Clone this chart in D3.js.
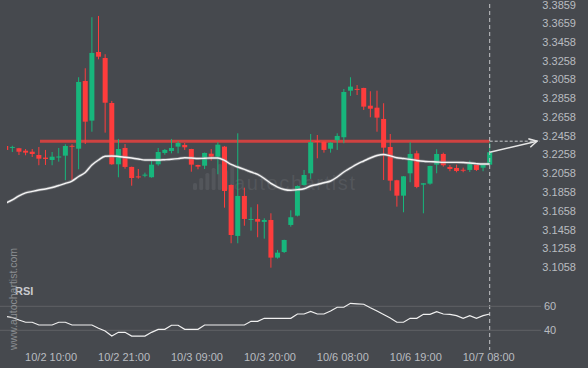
<!DOCTYPE html>
<html>
<head>
<meta charset="UTF-8">
<title>Candles</title>
<script src="https://d3js.org/d3.v7.min.js"></script>
<style>
  body {margin: 0; background: #46494e;}
  text {font-family: "Liberation Sans", Arial, sans-serif;}
  .axis-lbl {fill: #b9bcc0; font-size: 11px;}
  .up {fill: #17b67c; stroke: #17b67c;}
  .down {fill: #fe3c3c; stroke: #fe3c3c;}
</style>
</head>
<body>
<div id="chart"></div>
<script>
// hourly candles, 10/2 03:00 -> 10/7 08:00
var opens = [3.2350,3.2336,3.2326,3.2300,3.2289,3.2254,3.2226,3.2201,3.2234,3.2247,
  3.2352,3.2321,3.3042,3.2620,3.3351,3.3287,3.2808,3.2155,3.2329,3.2127,
  3.2026,3.2034,3.2017,3.2155,3.2276,3.2297,3.2343,3.2361,3.2318,3.2148,
  3.2140,3.2268,3.2236,3.2343,3.1935,3.1392,3.1818,3.1568,3.1573,3.1541,
  3.1562,3.1161,3.1221,3.1509,3.1608,3.1935,3.2059,3.2403,3.2396,3.2321,
  3.2411,3.2443,3.2939,3.2958,3.2968,3.2779,3.2758,3.2638,3.2339,3.1985,
  3.1821,3.2059,3.2272,3.1938,3.1949,3.2151,3.2265,3.2127,3.2116,3.2097,
  3.2095,3.2148,3.2119,3.2151];
var highs = [3.2355,3.2353,3.2330,3.2318,3.2318,3.2339,3.2308,3.2286,3.2329,3.2368,
  3.2368,3.3082,3.3178,3.3721,3.3735,3.3327,3.2830,3.2425,3.2371,3.2130,
  3.2105,3.2066,3.2194,3.2329,3.2318,3.2425,3.2400,3.2382,3.2320,3.2150,
  3.2280,3.2318,3.2390,3.2350,3.1940,3.2485,3.1906,3.1697,3.1729,3.1580,
  3.1633,3.1243,3.1352,3.1665,3.1930,3.2095,3.2478,3.2467,3.2400,3.2390,
  3.2485,3.2957,3.3082,3.2999,3.2970,3.2933,3.2939,3.2805,3.2478,3.1990,
  3.2030,3.2390,3.2300,3.1955,3.2140,3.2315,3.2279,3.2148,3.2151,3.2119,
  3.2194,3.2150,3.2150,3.2385];
var lows = [3.2300,3.2286,3.2254,3.2251,3.2233,3.2145,3.2148,3.2145,3.2183,3.1985,
  3.1988,3.2102,3.2371,3.2502,3.3273,3.2492,3.2150,3.2017,3.2108,3.1927,
  3.2002,3.2017,3.2012,3.2140,3.2257,3.2272,3.2272,3.2308,3.2076,3.2102,
  3.2105,3.2194,3.2049,3.1693,3.1314,3.1314,3.1501,3.1448,3.1378,3.1363,
  3.1054,3.1150,3.1210,3.1491,3.1600,3.1927,3.2000,3.2219,3.2279,3.2279,
  3.2308,3.2379,3.2883,3.2893,3.2734,3.2656,3.2502,3.1988,3.1874,3.1704,
  3.1644,3.1964,3.1900,3.1633,3.1938,3.2059,3.2130,3.2081,3.2070,3.2070,
  3.2073,3.2084,3.2081,3.2150];
var closes = [3.2308,3.2340,3.2289,3.2279,3.2265,3.2215,3.2212,3.2236,3.2238,3.2350,
  3.2348,3.3032,3.2609,3.3341,3.3301,3.2811,3.2155,3.2318,3.2127,3.2009,
  3.2021,3.2045,3.2151,3.2286,3.2308,3.2329,3.2382,3.2336,3.2151,3.2130,
  3.2276,3.2236,3.2364,3.1871,3.1402,3.1818,3.1573,3.1573,3.1544,3.1562,
  3.1161,3.1214,3.1349,3.1591,3.1924,3.2041,3.2390,3.2393,3.2308,3.2385,
  3.2457,3.2925,3.2982,3.2954,3.2769,3.2747,3.2652,3.2332,3.1981,3.1821,
  3.2027,3.2265,3.1914,3.1953,3.2137,3.2265,3.2145,3.2105,3.2084,3.2094,
  3.2158,3.2095,3.2148,3.2283];
var maVals = [3.1743,3.1775,3.1818,3.1850,3.1866,3.1881,3.1892,3.1908,3.1929,3.1951,
  3.1977,3.2025,3.2068,3.2148,3.2201,3.2240,3.2244,3.2238,3.2230,3.2222,
  3.2212,3.2201,3.2201,3.2201,3.2204,3.2208,3.2215,3.2225,3.2222,3.2217,
  3.2219,3.2222,3.2222,3.2196,3.2153,3.2126,3.2100,3.2073,3.2047,3.2004,
  3.1951,3.1913,3.1887,3.1878,3.1885,3.1895,3.1924,3.1940,3.1959,3.1977,
  3.2020,3.2073,3.2116,3.2158,3.2190,3.2222,3.2249,3.2260,3.2244,3.2225,
  3.2217,3.2208,3.2196,3.2187,3.2183,3.2180,3.2176,3.2176,3.2176,3.2174,
  3.2169,3.2162,3.2158,3.2158];
var rsiVals = [51.5,50.7,48.6,46.7,46.7,44.4,44.4,44.4,46.7,46.7,
  44.4,44.4,44.4,44.4,41.7,39.4,35.2,38.3,38.3,35.2,
  35.2,35.2,38.3,40.8,40.8,44.2,44.2,40.8,40.8,40.8,
  44.4,44.4,44.4,44.4,44.4,44.4,44.4,47.5,47.5,50.0,
  50.0,50.0,50.0,50.0,53.6,53.6,55.8,53.6,53.6,56.1,
  59.2,59.2,62.5,62.1,61.7,58.8,56.1,53.2,50.3,46.7,
  46.7,50.0,50.0,53.3,53.3,55.5,53.6,53.2,52.2,50.0,
  52.2,50.0,52.2,53.6];

var priceTicks = ["3.3859","3.3659","3.3458","3.3258","3.3058","3.2858","3.2658","3.2458",
  "3.2258","3.2058","3.1858","3.1658","3.1458","3.1258","3.1058"];
var timeIdx = [7, 18, 29, 40, 51, 62, 73];
var timeLabels = ["10/2 10:00","10/2 21:00","10/3 09:00","10/3 20:00","10/6 08:00","10/6 19:00","10/7 08:00"];
var rsiTicks = [60, 40];
var alertLevel = 3.2401;

var width = 588, height = 368;
var last = closes.length - 1;

var x = d3.scaleLinear().domain([0, last]).range([5.7, 489.7]);
var y = d3.scaleLinear().domain([3.1058, 3.3859]).range([267.3, 4.3]);
var yr = d3.scaleLinear().domain([40, 60]).range([330.3, 306.3]);

var svg = d3.select("#chart").append("svg")
    .attr("width", width)
    .attr("height", height);

var defs = svg.append("defs");
defs.append("clipPath").attr("id", "plotclip")
  .append("rect").attr("x", 7).attr("y", 0).attr("width", 535).attr("height", 280);
defs.append("clipPath").attr("id", "rsiclip")
  .append("rect").attr("x", 7).attr("y", 280).attr("width", 535).attr("height", 80);

// faint watermark logo
var wm = svg.append("g").attr("opacity", 0.9);
var wmBars = [7, 12, 17, 22, 26, 20, 24];
wm.selectAll("rect").data(wmBars).enter().append("rect")
    .attr("x", function(d, i) {return 193 + i * 6.2})
    .attr("y", function(d) {return 190 - d})
    .attr("width", 4).attr("height", function(d) {return d})
    .attr("rx", 1.5)
    .attr("fill", "#55585d");
wm.append("text")
    .attr("x", 234).attr("y", 190)
    .attr("font-size", 20).attr("letter-spacing", 1.6)
    .attr("fill", "#55585d")
    .text("autochartist");

// price axis labels
svg.append("g").selectAll("text").data(priceTicks).enter().append("text")
    .attr("class", "axis-lbl")
    .attr("x", 576)
    .attr("y", function(d) {return Math.max(y(+d), 5.2)})
    .attr("dy", "0.35em")
    .attr("text-anchor", "end")
    .text(function(d) {return d});

var plot = svg.append("g").attr("clip-path", "url(#plotclip)");

// alert level
plot.append("line")
    .attr("x1", 40).attr("x2", x(last))
    .attr("y1", y(alertLevel)).attr("y2", y(alertLevel))
    .attr("stroke", "#e8413f").attr("stroke-width", 3).attr("opacity", 0.85);
plot.append("line")
    .attr("x1", x(last)).attr("x2", 540)
    .attr("y1", y(alertLevel)).attr("y2", y(alertLevel))
    .attr("stroke", "#c9cbcd").attr("stroke-width", 1).attr("stroke-dasharray", "3,2");

// candles
var idx = d3.range(closes.length);
var candles = plot.append("g").selectAll("g").data(idx).enter().append("g")
    .attr("class", function(i) {return closes[i] >= opens[i] ? "up" : "down"});
candles.append("line")
    .attr("x1", function(i) {return x(i)}).attr("x2", function(i) {return x(i)})
    .attr("y1", function(i) {return y(highs[i])}).attr("y2", function(i) {return y(lows[i])})
    .attr("stroke-width", 1);
candles.append("rect")
    .attr("x", function(i) {return x(i) - 2.5})
    .attr("width", 5)
    .attr("y", function(i) {return y(Math.max(opens[i], closes[i]))})
    .attr("height", function(i) {return Math.max(1, Math.abs(y(opens[i]) - y(closes[i])))})
    .attr("stroke", "none");

// moving average
var maLine = d3.line().curve(d3.curveMonotoneX)
    .x(function(d, i) {return x(i)})
    .y(function(d) {return y(d)});
plot.append("path").datum(maVals)
    .attr("d", maLine)
    .attr("fill", "none").attr("stroke", "#9a9c9f").attr("stroke-width", 3).attr("opacity", 0.5);
plot.append("path").datum(maVals)
    .attr("d", maLine)
    .attr("fill", "none").attr("stroke", "#f4f4f4").attr("stroke-width", 1.4);

// forecast arrow
var ax0 = x(last), ay0 = y(closes[last]), ax1 = 537, ay1 = y(alertLevel);
svg.append("line")
    .attr("x1", ax0).attr("y1", ay0).attr("x2", ax1).attr("y2", ay1)
    .attr("stroke", "#e6e6e6").attr("stroke-width", 1.5);
var ang = Math.atan2(ay1 - ay0, ax1 - ax0);
svg.append("path")
    .attr("d", "M" + (ax1 - 9 * Math.cos(ang - 0.5)) + "," + (ay1 - 9 * Math.sin(ang - 0.5)) +
        "L" + ax1 + "," + ay1 +
        "L" + (ax1 - 9 * Math.cos(ang + 0.5)) + "," + (ay1 - 9 * Math.sin(ang + 0.5)))
    .attr("fill", "none").attr("stroke", "#e6e6e6").attr("stroke-width", 1.5);

// current-bar marker
svg.append("line")
    .attr("x1", x(last)).attr("x2", x(last))
    .attr("y1", 4).attr("y2", 350)
    .attr("stroke", "#c4c6c8").attr("stroke-width", 1).attr("stroke-dasharray", "4,3");

// RSI panel
svg.append("g").selectAll("line").data(rsiTicks).enter().append("line")
    .attr("x1", 0).attr("x2", 541)
    .attr("y1", function(d) {return yr(d)}).attr("y2", function(d) {return yr(d)})
    .attr("stroke", "#5f6266").attr("stroke-width", 1);
svg.append("g").selectAll("text").data(rsiTicks).enter().append("text")
    .attr("class", "axis-lbl")
    .attr("x", 544)
    .attr("y", function(d) {return yr(d)})
    .attr("dy", "0.35em")
    .text(function(d) {return d});
var rsiLine = d3.line()
    .x(function(d, i) {return x(i)})
    .y(function(d) {return yr(d)});
svg.append("path").datum(rsiVals)
    .attr("clip-path", "url(#rsiclip)")
    .attr("d", rsiLine)
    .attr("fill", "none").attr("stroke", "#f0f0f0").attr("stroke-width", 1.2);
svg.append("text")
    .attr("x", 15).attr("y", 295)
    .attr("font-size", 11).attr("font-weight", "bold")
    .attr("fill", "#c9cbce")
    .text("RSI");

// time axis
svg.append("g").selectAll("text").data(timeIdx).enter().append("text")
    .attr("class", "axis-lbl")
    .attr("x", function(d) {return x(d) - 1})
    .attr("y", 361)
    .attr("text-anchor", "middle")
    .attr("font-size", "10.5px")
    .text(function(d, i) {return timeLabels[i]});

// site watermark
svg.append("text")
    .attr("transform", "translate(17,350) rotate(-90)")
    .attr("font-size", 10.5)
    .attr("fill", "#8a8d91")
    .text("www.autochartist.com");
</script>
</body>
</html>
